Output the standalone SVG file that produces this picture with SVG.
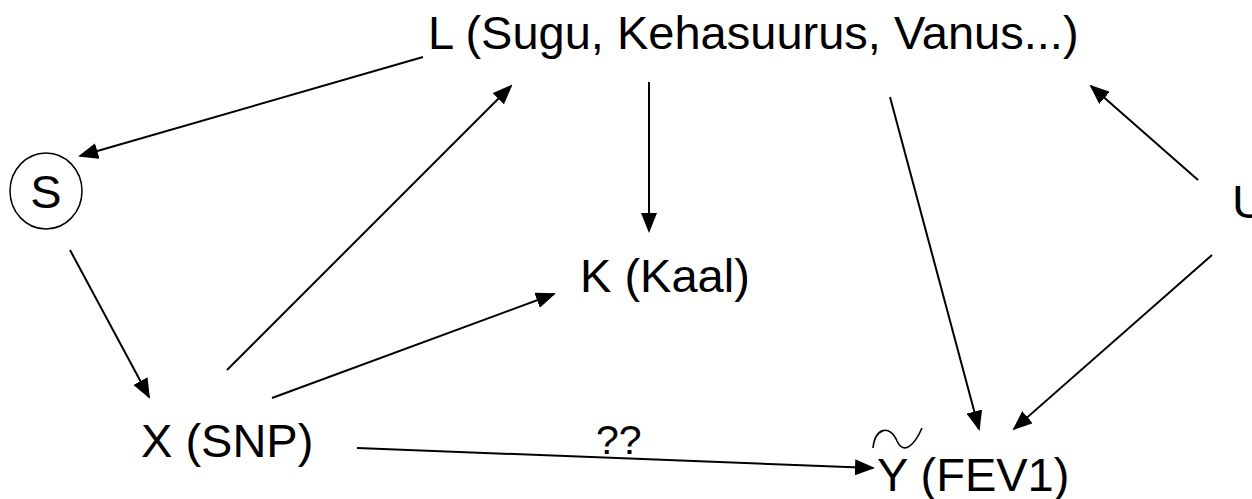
<svg xmlns="http://www.w3.org/2000/svg" width="1252" height="499" viewBox="0 0 1252 499">
<style>
.t{font-family:"Liberation Sans",Arial,sans-serif;font-size:47px;fill:#000}
.e{stroke:#000;stroke-width:2;fill:none;marker-end:url(#ah)}
</style>
<defs>
<marker id="ah" markerWidth="10" markerHeight="8" refX="9" refY="4" orient="auto" markerUnits="strokeWidth">
<path d="M0,0 L10,4 L0,8 Z" fill="#000"/>
</marker>
</defs>
<rect width="1252" height="499" fill="#fff"/>
<g id="node-L"><text class="t" x="428" y="49">L (Sugu, Kehasuurus, Vanus...)</text></g>
<g id="node-S"><ellipse cx="46" cy="191" rx="36" ry="38" fill="none" stroke="#000" stroke-width="1.5"/><text class="t" x="46" y="208" text-anchor="middle">S</text></g>
<g id="node-K"><text class="t" x="580" y="292">K (Kaal)</text></g>
<g id="node-U"><text class="t" x="1232" y="218">U</text></g>
<g id="node-X"><text class="t" x="141" y="457">X (SNP)</text></g>
<g id="node-Y"><text class="t" x="877" y="491">Y (FEV1)</text><path d="M873,448 C875,428 890,424 897,441 C904,456 915,444 922,428" fill="none" stroke="#000" stroke-width="1.6"/></g>
<g id="connectors">
<line class="e" x1="423" y1="57" x2="80" y2="156"/>
<line class="e" x1="70" y1="250" x2="149" y2="397"/>
<line class="e" x1="227" y1="370" x2="511" y2="86"/>
<line class="e" x1="272" y1="398" x2="554" y2="294"/>
<line class="e" x1="649" y1="82" x2="649" y2="231"/>
<line class="e" x1="890" y1="97" x2="979" y2="429"/>
<line class="e" x1="1198" y1="180" x2="1091" y2="86"/>
<line class="e" x1="1212" y1="255" x2="1014" y2="429"/>
<line class="e" x1="357" y1="448" x2="873" y2="468"/>
<text class="t" x="596" y="454" style="font-size:41px">??</text>
</g>
</svg>
